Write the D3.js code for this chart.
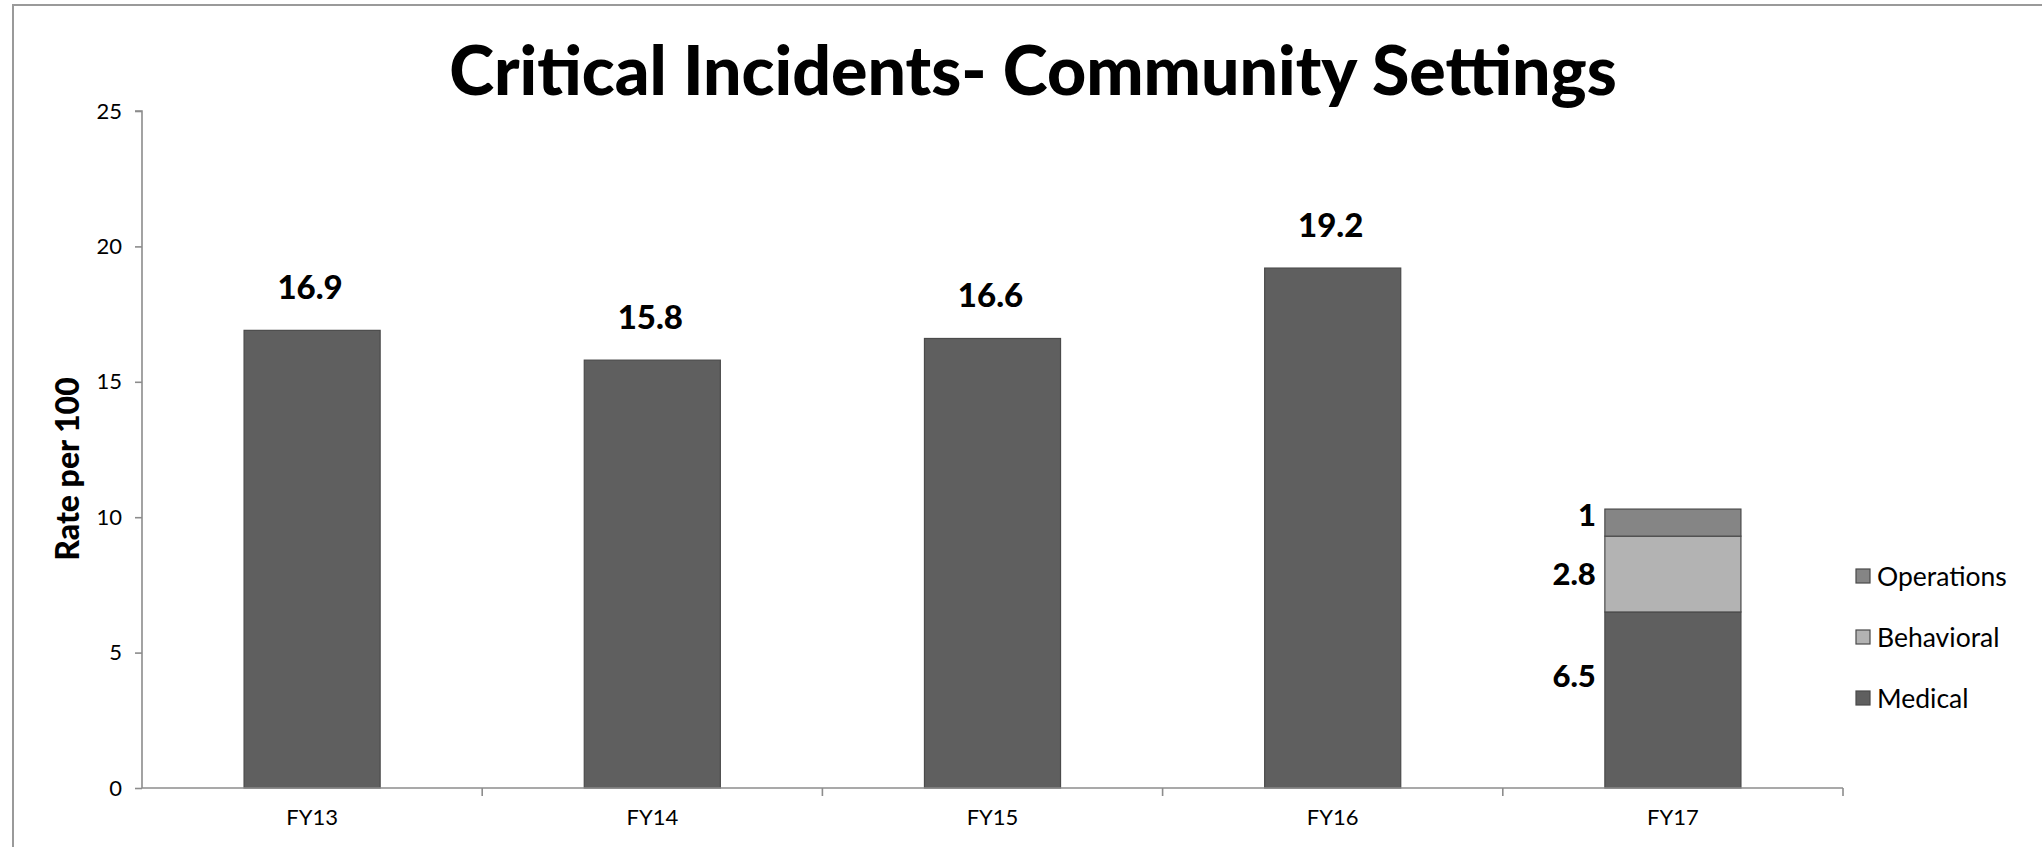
<!DOCTYPE html>
<html>
<head>
<meta charset="utf-8">
<script src="https://cdn.jsdelivr.net/npm/d3@7/dist/d3.min.js"></script>
<style>
  html, body { margin: 0; padding: 0; background: #fff; }
  svg { display: block; }
  text { font-family: Lato, "Open Sans", sans-serif; fill: #000; }
</style>
</head>
<body>
<svg id="chart" width="2042" height="847"></svg>
<script>
// Fiscal years on the category axis
const categories = ["FY13", "FY14", "FY15", "FY16", "FY17"];
// Combined rate per 100 for the years reported as a single total
const totalRates = [16.9, 15.8, 16.6, 19.2, null];
// FY17 breakdown by incident type (stacked bottom to top)
const stackSeries = ["Medical", "Behavioral", "Operations"];
const fy17Values = [6.5, 2.8, 1];
// Legend order (top to bottom)
const legendOrder = ["Operations", "Behavioral", "Medical"];
// Y-axis tick labels
const yTicks = [0, 5, 10, 15, 20, 25];

const title = "Critical Incidents- Community Settings";
const yTitle = "Rate per 100";

const colors = { Medical: "#5f5f5f", Behavioral: "#b3b3b3", Operations: "#858585" };
const axisColor = "#8c8c8c";

const svg = d3.select("#chart");
const W = 2042, H = 847;
const margin = { left: 142, right: 199, top: 111, bottom: 59 };
const plotL = margin.left, plotR = W - margin.right;
const plotT = margin.top, plotB = H - margin.bottom;

// Frame
svg.append("path")
  .attr("d", `M13,${H} L13,5 L${W},5`)
  .attr("fill", "none").attr("stroke", "#9a9a9a").attr("stroke-width", 2);

const x = d3.scaleBand().domain(categories).range([plotL, plotR]).padding(0);
const y = d3.scaleLinear().domain([0, 25]).range([plotB, plotT]);
const barW = x.bandwidth() * 0.4;

// Title, sized to span its width
const t = svg.append("text")
  .attr("x", 1033).attr("y", 95)
  .attr("text-anchor", "middle")
  .style("font-weight", 900)
  .style("font-size", "66px")
  .text(title);
const targetW = 1168;
const tw = t.node().getComputedTextLength();
t.style("font-size", (66 * targetW / tw).toFixed(1) + "px");

// Y axis
const yAxis = svg.append("g")
  .attr("transform", `translate(${plotL},0)`)
  .call(d3.axisLeft(y).tickValues(yTicks).tickSize(7).tickPadding(13).tickFormat(d3.format("d")));
yAxis.select(".domain").attr("stroke", axisColor).attr("stroke-width", 1.6)
  .attr("d", `M-7,${plotT}H0V${plotB}`);
yAxis.selectAll(".tick line").attr("stroke", axisColor).attr("stroke-width", 1.6);
yAxis.selectAll(".tick text").style("font-size", "22px").style("font-family", "Lato, sans-serif").attr("fill", "#000");

// Y-axis title
svg.append("text")
  .attr("transform", `translate(79,${469}) rotate(-90)`)
  .attr("text-anchor", "middle")
  .style("font-weight", 900)
  .style("font-size", "32px")
  .text(yTitle);

// Bars for single-total years
const singles = categories.map((c, i) => ({ c, v: totalRates[i] })).filter(d => d.v != null);
svg.append("g").selectAll("rect").data(singles).join("rect")
  .attr("x", d => x(d.c) + (x.bandwidth() - barW) / 2)
  .attr("y", d => y(d.v))
  .attr("width", barW)
  .attr("height", d => y(0) - y(d.v))
  .attr("fill", colors.Medical)
  .attr("stroke", "#4a4a4a").attr("stroke-width", 1.2);

svg.append("g").selectAll("text").data(singles).join("text")
  .attr("x", d => x(d.c) + x.bandwidth() / 2 - 2)
  .attr("y", d => y(d.v) - 31)
  .attr("text-anchor", "middle")
  .style("font-weight", 900)
  .style("font-size", "33px")
  .text(d => d3.format(".1f")(d.v));

// Stacked FY17 bar
const stackRow = {};
stackSeries.forEach((s, i) => stackRow[s] = fy17Values[i]);
const stacked = d3.stack().keys(stackSeries)([stackRow]);
const xs = x("FY17") + (x.bandwidth() - barW) / 2;
svg.append("g").selectAll("rect").data(stacked).join("rect")
  .attr("x", xs)
  .attr("y", d => y(d[0][1]))
  .attr("width", barW)
  .attr("height", d => y(d[0][0]) - y(d[0][1]))
  .attr("fill", d => colors[d.key])
  .attr("stroke", "#4a4a4a").attr("stroke-width", 1.2);

// Segment value labels, to the left of the stacked bar
const labelShift = { Medical: -24, Behavioral: 0, Operations: -7 };
svg.append("g").selectAll("text").data(stacked).join("text")
  .attr("x", xs - 9)
  .attr("y", d => (y(d[0][0]) + y(d[0][1])) / 2 + labelShift[d.key])
  .attr("dy", "0.35em")
  .attr("text-anchor", "end")
  .style("font-weight", 900)
  .style("font-size", "31px")
  .text(d => d3.format("~g")(d[0].data[d.key]));

// X axis
const xAxis = svg.append("g")
  .attr("transform", `translate(0,${plotB})`)
  .call(d3.axisBottom(x).tickSize(0).tickPadding(21));
xAxis.select(".domain").attr("stroke", axisColor).attr("stroke-width", 1.6)
  .attr("d", `M${plotL},0H${plotR}`);
xAxis.selectAll(".tick text").style("font-size", "22px").style("font-family", "Lato, sans-serif").attr("fill", "#000");
// Category boundary ticks
svg.append("g").selectAll("line").data(categories).join("line")
  .attr("x1", d => x(d) + x.bandwidth()).attr("x2", d => x(d) + x.bandwidth())
  .attr("y1", plotB).attr("y2", plotB + 8)
  .attr("stroke", axisColor).attr("stroke-width", 1.6);

// Legend
const lg = svg.append("g").attr("transform", "translate(1856,576)");
const rows = lg.selectAll("g").data(legendOrder).join("g")
  .attr("transform", (d, i) => `translate(0,${i * 61})`);
rows.append("rect")
  .attr("x", 0).attr("y", -7).attr("width", 14).attr("height", 14)
  .attr("fill", d => colors[d]).attr("stroke", "#4a4a4a").attr("stroke-width", 1.2);
rows.append("text")
  .attr("x", 21).attr("y", 0).attr("dy", "0.36em")
  .style("font-size", "26.5px")
  .text(d => d);
</script>
</body>
</html>
